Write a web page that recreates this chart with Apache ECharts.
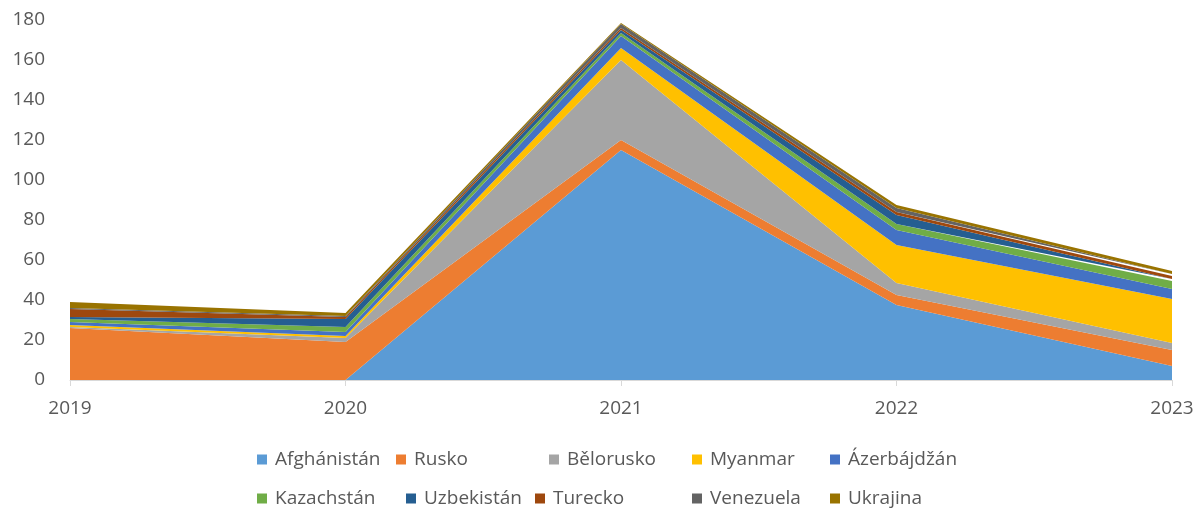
<!DOCTYPE html>
<html>
<head>
<meta charset="utf-8">
<script src="https://cdn.jsdelivr.net/npm/echarts@6/dist/echarts.min.js"></script>
<style>html,body{margin:0;padding:0;background:#fff}#c{width:1200px;height:512px}</style>
</head>
<body>
<div id="c"></div>
<script>
const years = ['2019','2020','2021','2022','2023'];
const afghanistan = [0, 0, 115, 37.5, 7];
const rusko = [26, 19, 5, 5, 8];
const belorusko = [0.5, 2, 40, 6, 3.5];
const myanmar = [1, 1, 6, 19, 22];
const azerbajdzan = [1.5, 2, 6, 7.5, 5];
const kazachstan = [1.5, 2.5, 1.5, 3, 4];
const uzbekistan = [1, 4, 1.5, 4.5, 1];
const turecko = [4, 1, 1, 1.5, 1.5];
const venezuela = [0.5, 0.5, 2, 2, 1];
const ukrajina = [3, 1.5, 0.5, 1.5, 1.5];
const yTicks = [0, 20, 40, 60, 80, 100, 120, 140, 160, 180];

const names = ['Afghánistán','Rusko','Bělorusko','Myanmar','Ázerbájdžán','Kazachstán','Uzbekistán','Turecko','Venezuela','Ukrajina'];
const dataSets = [afghanistan, rusko, belorusko, myanmar, azerbajdzan, kazachstan, uzbekistan, turecko, venezuela, ukrajina];
const colors = ['#5B9BD5','#ED7D31','#A5A5A5','#FFC000','#4472C4','#70AD47','#255E91','#9E480E','#636363','#997300'];
const legendPos = [[257,450],[396,450],[549,450],[692,450],[830,450],[257,489],[406,489],[535,489],[692,489],[830,489]];
const font = '"Open Sans", "Liberation Sans", sans-serif';

const chart = echarts.init(document.getElementById('c'), null, {renderer:'canvas'});
chart.setOption({
  animation: false,
  color: colors,
  grid: {left: 70, right: 28, top: 20, bottom: 132, containLabel: false},
  xAxis: {
    type: 'category', data: years, boundaryGap: false,
    axisLine: {lineStyle: {color: '#D9D9D9', width: 1}},
    axisTick: {show: true, length: 6, lineStyle: {color: '#D9D9D9'}},
    axisLabel: {color: '#595959', fontSize: 19, fontFamily: font, margin: 19}
  },
  yAxis: {
    type: 'value', min: yTicks[0], max: yTicks[yTicks.length-1], interval: 20,
    axisLine: {show: false}, axisTick: {show: false},
    splitLine: {show: false},
    axisLabel: {color: '#595959', fontSize: 19, fontFamily: font, margin: 25}
  },
  legend: names.map((n, i) => ({
    data: [n], left: legendPos[i][0], top: legendPos[i][1],
    itemWidth: 10, itemHeight: 10, itemGap: 0, icon: 'rect', padding: 0,
    textStyle: {color: '#595959', fontSize: 19, fontFamily: font, padding: [0,0,0,3]}
  })),
  series: names.map((n, i) => ({
    name: n, type: 'line', stack: 'total', data: dataSets[i],
    showSymbol: false, symbol: 'none',
    lineStyle: {width: 0},
    areaStyle: {color: colors[i], opacity: 1},
    itemStyle: {color: colors[i]}
  }))
});
</script>
</body>
</html>
